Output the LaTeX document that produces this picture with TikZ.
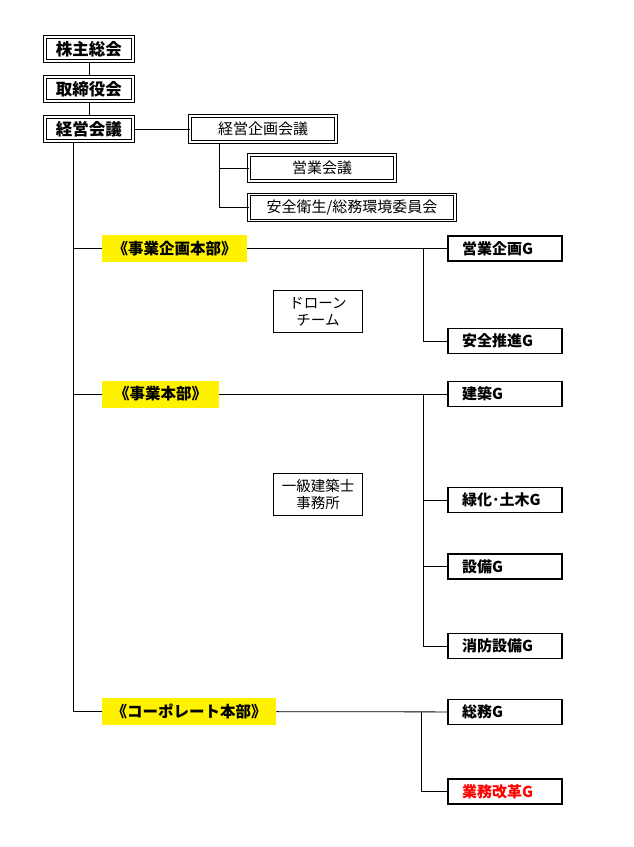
\documentclass[tikz,border=0pt]{standalone}
\usepackage{fontspec}
\newfontfamily\jp{Noto Sans CJK JP}
\usetikzlibrary{positioning}

\begin{document}
\begin{tikzpicture}[x=1pt, y=-1pt, line width=0.8pt,
    topbox/.style={draw, double, double distance=1.5pt, line width=1.3pt, minimum width=88pt, minimum height=24pt, inner sep=0pt, font=\jp\bfseries\fontsize{16.5}{18}\selectfont},
    meetbox/.style={draw, double, double distance=1.5pt, line width=1pt, minimum height=26pt, inner sep=0pt, font=\jp\fontsize{15}{17}\selectfont},
    hqlabel/.style={fill=yellow, minimum height=27pt, inner sep=0pt, font=\jp\bfseries\fontsize{15.5}{17}\selectfont},
    grpbox/.style={draw, line width=1.6pt, minimum width=114pt, minimum height=25pt, text width=86pt, inner xsep=14pt, inner ysep=0pt, align=left, font=\jp\bfseries\fontsize{15}{17}\selectfont},
    sidebox/.style={draw, line width=0.7pt, minimum width=89pt, minimum height=42pt, inner sep=0pt, align=center, font=\jp\fontsize{14.5}{17}\selectfont}]
    \useasboundingbox (0,0) rectangle (634,847);

    % top of the company
    \node [topbox] (kabu) at (89,49) {株主総会};
    \node [topbox, below of=kabu, node distance=40pt] (tori) {取締役会};
    \node [topbox, below of=tori, node distance=40pt] (keiei) {経営会議};
    \node [meetbox, minimum width=146pt] (kikaku) at (263,129) {経営企画会議};
    \node [meetbox, minimum width=146pt] (eigyo) at (322,168) {営業会議};
    \node [meetbox, minimum width=206pt] (eisei) at (352,207.5) {安全衛生/総務環境委員会};
    \coordinate (trunk) at (73,143);
    \coordinate (kbranch) at (219,144);

    % headquarters
    \node [hqlabel, minimum width=145pt] (jkikaku) at (174.5,248.5) {《事業企画本部》};
    \node [hqlabel, minimum width=117pt] (jigyo) at (160.5,394) {《事業本部》};
    \node [hqlabel, minimum width=174pt] (corp) at (189,711.5) {《コーポレート本部》};

    % groups
    \node [grpbox] (eikikaku) at (505,248.5) {営業企画G};
    \node [grpbox] (anzen) at (505,341) {安全推進G};
    \node [grpbox] (kenchiku) at (505,394) {建築G};
    \node [grpbox] (ryokka) at (505,500) {緑化･土木G};
    \node [grpbox] (setsubi) at (505,566.5) {設備G};
    \node [grpbox] (shobo) at (505,646) {消防設備G};
    \node [grpbox] (somu) at (505,712) {総務G};
    \node [grpbox, text=red] (kaikaku) at (505,791.5) {業務改革G};
    \node [sidebox] (drone) at (318,311.5) {ドローン\\チーム};
    \node [sidebox] (ikkyu) at (318,494.5) {一級建築士\\事務所};
    \coordinate (b1) at (423,248.5);
    \coordinate (b2) at (423,394);
    \coordinate (b3) at (421,712);

    \draw (kabu) -- (tori);
    \draw (tori) -- (keiei);
    \draw (keiei) -- (kikaku);
    \draw (kbranch) |- (eigyo);
    \draw (kbranch) |- (eisei);
    \draw (trunk) |- (corp);
    \draw (trunk |- jkikaku) -- (jkikaku);
    \draw (trunk |- jigyo) -- (jigyo);
    \draw (jkikaku) -- (eikikaku);
    \draw (b1) |- (anzen);
    \draw (jigyo) -- (kenchiku);
    \draw (b2) |- (ryokka);
    \draw (b2) |- (setsubi);
    \draw (b2) |- (shobo);
    \draw (corp) -- (somu);
    \draw (b3) |- (kaikaku);
\end{tikzpicture}
\end{document}
